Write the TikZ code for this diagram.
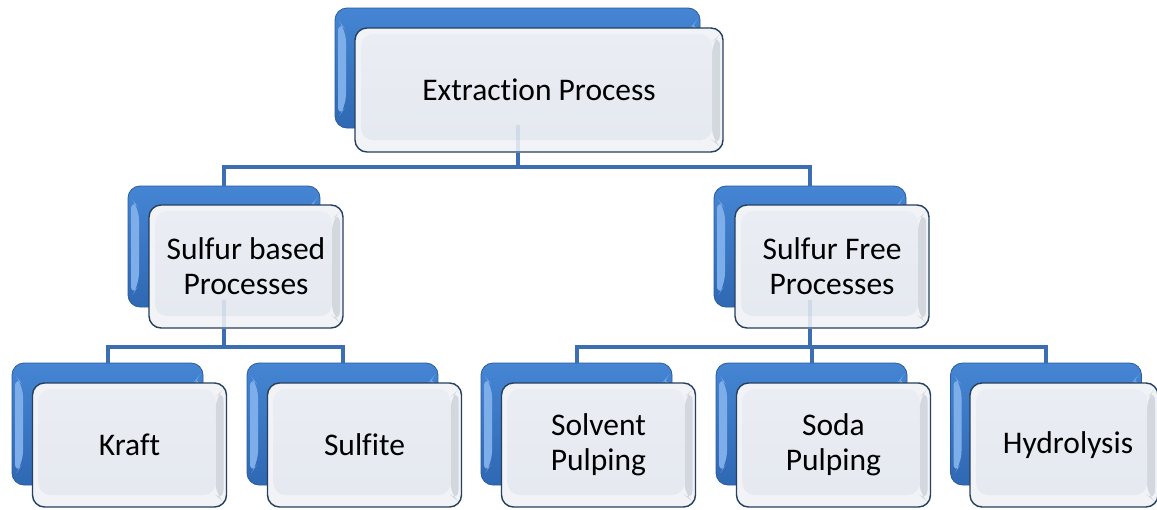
\documentclass[tikz,border=0pt]{standalone}
\usepackage{fontspec}
\setmainfont{Carlito}[Ligatures=NoCommon]
\definecolor{bluetop}{HTML}{4585D3}
\definecolor{bluebot}{HTML}{2F68B3}
\definecolor{bluedark}{HTML}{2A5D9C}
\definecolor{bluelite}{HTML}{7EAEEA}
\definecolor{fborder}{HTML}{26405F}
\definecolor{fbevel}{HTML}{F1F3F7}
\definecolor{fgray}{HTML}{D3D7DE}
\definecolor{fintop}{HTML}{EAEDF3}
\definecolor{finbot}{HTML}{E5E9F0}
\definecolor{conncol}{HTML}{3C6FB2}
\begin{document}
\begin{tikzpicture}[x=1pt,y=-1pt,
  backbox/.style={draw=bluedark, line width=0.8pt, rounded corners=12pt,
    top color=bluetop, bottom color=bluebot, inner sep=0pt,
    path picture={
      \fill[bluelite] ([shift={(3pt,-12pt)}]path picture bounding box.north west)
        -- ([shift={(11pt,-22pt)}]path picture bounding box.north west)
        -- ([shift={(11pt,22pt)}]path picture bounding box.south west)
        -- ([shift={(3pt,10pt)}]path picture bounding box.south west) -- cycle;
      \fill[bluelite!85!bluetop] ([shift={(-3pt,-12pt)}]path picture bounding box.north east)
        -- ([shift={(-10pt,-20pt)}]path picture bounding box.north east)
        -- ([shift={(-10pt,-40pt)}]path picture bounding box.north east)
        -- ([shift={(-3pt,-36pt)}]path picture bounding box.north east) -- cycle;
    }},
  frontbox/.style={draw=fborder, line width=1.4pt, rounded corners=12pt,
    fill=fbevel, inner sep=0pt, align=center,
    font=\fontsize{31.5}{35}\selectfont,
    path picture={
      \fill[fgray] ([shift={(-3pt,-6pt)}]path picture bounding box.north east)
        -- ([shift={(-11pt,-14pt)}]path picture bounding box.north east)
        -- ([shift={(-11pt,12pt)}]path picture bounding box.south east)
        -- ([shift={(-3pt,5pt)}]path picture bounding box.south east) -- cycle;
      \shade[top color=fintop, bottom color=finbot]
        ([shift={(6pt,-6pt)}]path picture bounding box.north west)
        rectangle ([shift={(-11pt,12pt)}]path picture bounding box.south east);
    }},
  conn/.style={draw=conncol, line width=4pt},
  ghost/.style={draw=conncol, line width=4pt, opacity=0.12}
]
\useasboundingbox (0,0) rectangle (1157,509);
\fill[white] (0,0) rectangle (1157,509);

% top
\node[backbox, minimum width=365pt, minimum height=120pt] (topB) at (517.5,68) {};
\node[frontbox, minimum width=368pt, minimum height=124pt] (top) at (539,90) {Extraction Process};

% level 2
\node[backbox, minimum width=192pt, minimum height=121pt] (sbB) at (224,246.5) {};
\node[frontbox, minimum width=194pt, minimum height=123pt] (sb) at (246,266.5) {Sulfur based\\Processes};
\node[backbox, minimum width=192pt, minimum height=121pt] (sfB) at (810,246.5) {};
\node[frontbox, minimum width=194pt, minimum height=123pt] (sf) at (832,266.5) {Sulfur Free\\Processes};

% level 3
\node[backbox, minimum width=191pt, minimum height=122pt] (krB) at (107.5,424) {};
\node[frontbox, minimum width=194pt, minimum height=124pt] (kr) at (129.5,445) {Kraft};
\node[backbox, minimum width=191pt, minimum height=122pt] (suB) at (342.5,424) {};
\node[frontbox, minimum width=194pt, minimum height=124pt] (su) at (364.5,445) {Sulfite};
\node[backbox, minimum width=191pt, minimum height=122pt] (soB) at (576.5,424) {};
\node[frontbox, minimum width=194pt, minimum height=124pt] (so) at (598.5,445) {Solvent\\Pulping};
\node[backbox, minimum width=191pt, minimum height=122pt] (sdB) at (811.5,424) {};
\node[frontbox, minimum width=194pt, minimum height=124pt] (sd) at (833.5,445) {Soda\\Pulping};
\node[backbox, minimum width=191pt, minimum height=122pt] (hyB) at (1046,424) {};
\node[frontbox, minimum width=188pt, minimum height=124pt, text width=188pt] (hy) at (1064,445) {\hspace*{8pt}Hydrolysis};

% junction points
\coordinate (j1) at (517.5,167);
\coordinate (j2) at (224,347);
\coordinate (j3) at (810,347);
\coordinate (g1) at (517.5,125);
\coordinate (g2) at (224,300);
\coordinate (g3) at (810,300);

% faint see-through parts of connectors
\draw[ghost] (g1) -- (top.south -| g1);
\draw[ghost] (g2) -- (sb.south -| g2);
\draw[ghost] (g3) -- (sf.south -| g3);

% connectors
\draw[conn] (top.south -| j1) -- (j1);
\draw[conn] (sbB.north) -- (sbB.north |- j1) -- (sfB.north |- j1) -- (sfB.north);
\draw[conn] (sb.south -| j2) -- (j2);
\draw[conn] (krB.north) -- (krB.north |- j2) -- (suB.north |- j2) -- (suB.north);
\draw[conn] (sf.south -| j3) -- (j3);
\draw[conn] (soB.north) -- (soB.north |- j3) -- (hyB.north |- j3) -- (hyB.north);
\draw[conn] (sdB.north) -- (sdB.north |- j3);
\end{tikzpicture}
\end{document}
